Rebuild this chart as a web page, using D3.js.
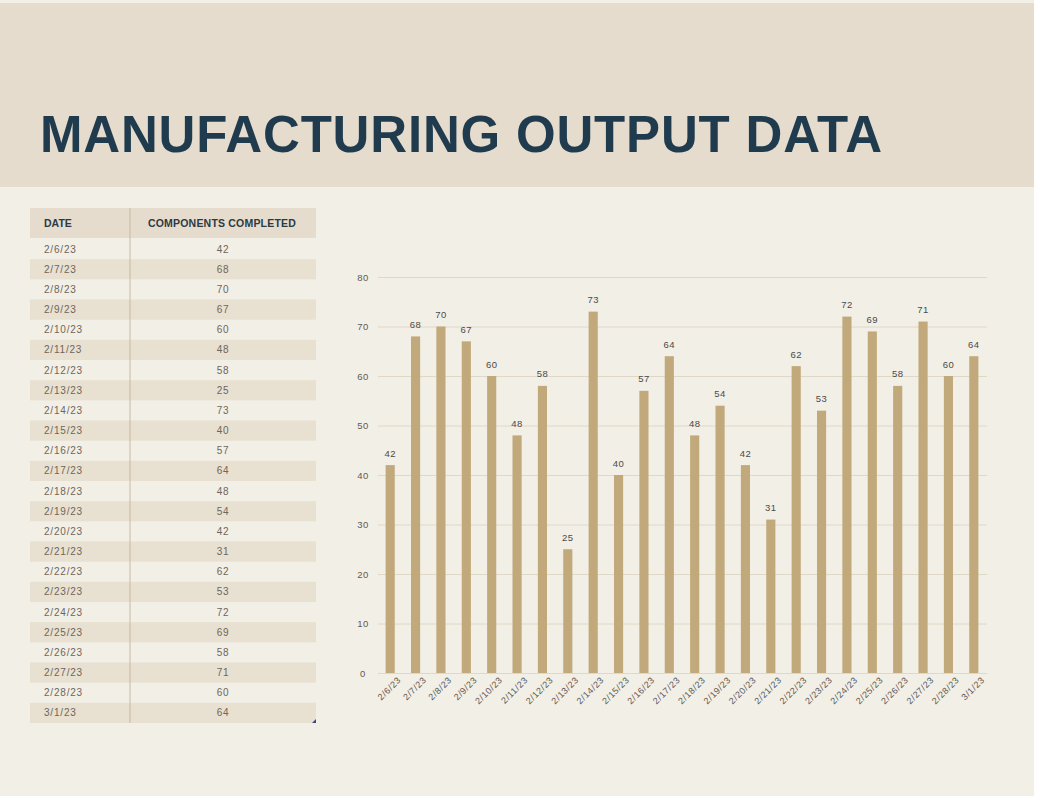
<!DOCTYPE html>
<html lang="en">
<head>
<meta charset="UTF-8">
<title>Manufacturing Output Data</title>
<script src="https://d3js.org/d3.v7.min.js"></script>
<style>
    body { margin: 0; background: #ffffff; }
    svg { display: block; font-family: "Liberation Sans", Arial, sans-serif; }
</style>
</head>
<body>
<svg id="chart" width="1038" height="800"></svg>
<script>
// Data
const dates = ['2/6/23', '2/7/23', '2/8/23', '2/9/23', '2/10/23', '2/11/23', '2/12/23', '2/13/23',
    '2/14/23', '2/15/23', '2/16/23', '2/17/23', '2/18/23', '2/19/23', '2/20/23', '2/21/23',
    '2/22/23', '2/23/23', '2/24/23', '2/25/23', '2/26/23', '2/27/23', '2/28/23', '3/1/23'];
const completed = [42, 68, 70, 67, 60, 48, 58, 25, 73, 40, 57, 64, 48, 54, 42, 31,
    62, 53, 72, 69, 58, 71, 60, 64];
const yTicks = [0, 10, 20, 30, 40, 50, 60, 70, 80];
const tableHeaders = ['DATE', 'COMPONENTS COMPLETED'];
const titleText = 'MANUFACTURING OUTPUT DATA';

const rows = dates.map((d, i) => ({ date: d, value: completed[i] }));

const svg = d3.select('#chart');

// Background panels
svg.append('rect').attr('x', 0).attr('y', 0).attr('width', 1034).attr('height', 796).attr('fill', '#f2efe7');
svg.append('rect').attr('x', 0).attr('y', 3).attr('width', 1034).attr('height', 184).attr('fill', '#e5dccd');

// Title
const title = svg.append('text')
    .attr('x', 40).attr('y', 152)
    .attr('fill', '#1f3b4d')
    .attr('font-size', 51)
    .attr('font-weight', 'bold')
    .text(titleText);
const tw = title.node().getComputedTextLength();
title.attr('letter-spacing', ((842 - tw) / (titleText.length - 1)) + 'px');

// Table
const tableX = 30, tableW = 286, divX = 130;
const headY = 208, headH = 30;
const rowY = d3.scaleBand().domain(d3.range(rows.length)).range([239, 723]);
const table = svg.append('g');

table.append('rect').attr('x', tableX).attr('y', headY).attr('width', tableW).attr('height', headH).attr('fill', '#e5dccd');
table.selectAll('rect.row')
    .data(rows)
    .enter().append('rect')
    .attr('class', 'row')
    .attr('x', tableX)
    .attr('y', (d, i) => rowY(i))
    .attr('width', tableW)
    .attr('height', rowY.bandwidth())
    .attr('fill', (d, i) => i % 2 === 1 ? '#e8e0d0' : 'none');

table.append('line')
    .attr('x1', divX).attr('x2', divX)
    .attr('y1', headY).attr('y2', 723)
    .attr('stroke', '#c9b9a0').attr('stroke-width', 1);

table.append('text').attr('x', 44).attr('y', headY + 19)
    .attr('font-size', 10.5).attr('font-weight', 'bold').attr('fill', '#2b3a44')
    .text(tableHeaders[0]);
table.append('text').attr('x', 222).attr('y', headY + 19)
    .attr('text-anchor', 'middle')
    .attr('font-size', 10.5).attr('font-weight', 'bold').attr('fill', '#2b3a44')
    .attr('letter-spacing', '0.2px')
    .text(tableHeaders[1]);

table.selectAll('text.date')
    .data(rows)
    .enter().append('text')
    .attr('class', 'date')
    .attr('x', 44)
    .attr('y', (d, i) => rowY(i) + rowY.bandwidth() / 2 + 3.5)
    .attr('font-size', 10).attr('letter-spacing', '0.8px').attr('fill', '#6e665a')
    .text(d => d.date);
table.selectAll('text.val')
    .data(rows)
    .enter().append('text')
    .attr('class', 'val')
    .attr('x', 223)
    .attr('y', (d, i) => rowY(i) + rowY.bandwidth() / 2 + 3.5)
    .attr('text-anchor', 'middle')
    .attr('font-size', 10).attr('letter-spacing', '0.8px').attr('fill', '#6e665a')
    .text(d => d.value);

// Small resize handle mark at table corner
table.append('path').attr('d', 'M312,723 L316,719 L316,723 Z').attr('fill', '#3a4a7a');

// Bar chart
const x = d3.scaleBand().domain(dates).range([377.5, 986.5]).paddingInner(0.64).paddingOuter(0.32);
const y = d3.scaleLinear().domain([0, 80]).range([673, 277]);
const chart = svg.append('g');

const yAxis = chart.append('g')
    .attr('transform', 'translate(378,0)')
    .call(d3.axisLeft(y).tickValues(yTicks).tickSize(-609).tickPadding(10));
yAxis.select('.domain').remove();
yAxis.selectAll('.tick line').attr('stroke', '#e0d8c6').attr('stroke-width', 1);
yAxis.selectAll('.tick text')
    .attr('fill', '#5e5a55').attr('font-size', 9.5).attr('letter-spacing', '0.5px')
    .attr('text-anchor', 'middle').attr('x', -15);

chart.selectAll('rect.bar')
    .data(rows)
    .enter().append('rect')
    .attr('class', 'bar')
    .attr('x', d => x(d.date))
    .attr('y', d => y(d.value))
    .attr('width', x.bandwidth())
    .attr('height', d => y(0) - y(d.value))
    .attr('fill', '#c1a97b');

chart.selectAll('text.lbl')
    .data(rows)
    .enter().append('text')
    .attr('class', 'lbl')
    .attr('x', d => x(d.date) + x.bandwidth() / 2)
    .attr('y', d => y(d.value) - 8.5)
    .attr('text-anchor', 'middle')
    .attr('font-size', 9.5).attr('letter-spacing', '0.5px').attr('fill', '#4a4a48')
    .text(d => d.value);

const xAxis = chart.append('g')
    .attr('transform', 'translate(0,673)')
    .call(d3.axisBottom(x).tickSize(0).tickPadding(8));
xAxis.select('.domain').remove();
xAxis.selectAll('.tick text')
    .attr('fill', '#5e5a55').attr('font-size', 9).attr('letter-spacing', '0.6px')
    .attr('text-anchor', 'end')
    .attr('dx', '0.3em').attr('dy', '0.6em')
    .attr('transform', 'rotate(-45)');
</script>
</body>
</html>
